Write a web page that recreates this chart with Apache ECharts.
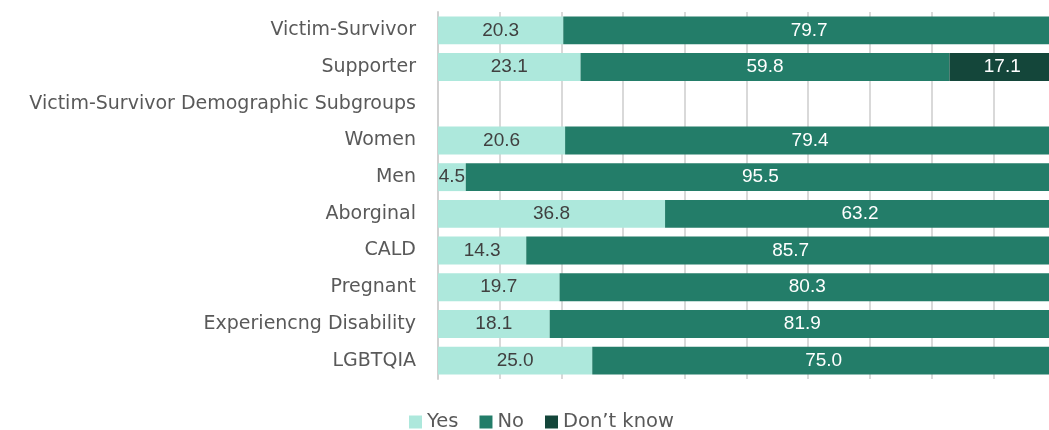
<!DOCTYPE html>
<html>
<head>
<meta charset="utf-8">
<script src="https://cdn.jsdelivr.net/npm/echarts@6/dist/echarts.min.js"></script>
<style>
  html, body { margin: 0; padding: 0; background: #fff; overflow: hidden; }
  /* a little wider than the window: the plot runs past the right edge, like the reference */
  #chart { width: 1055px; height: 430px; }
</style>
</head>
<body>
<div id="chart"></div>
<script>
// categories, top to bottom
const categories = [
    'Victim-Survivor',
    'Supporter',
    'Victim-Survivor Demographic Subgroups',
    'Women',
    'Men',
    'Aborginal',
    'CALD',
    'Pregnant',
    'Experiencng Disability',
    'LGBTQIA'
];
const yesValues = [20.3, 23.1, null, 20.6, 4.5, 36.8, 14.3, 19.7, 18.1, 25.0];
const noValues = [79.7, 59.8, null, 79.4, 95.5, 63.2, 85.7, 80.3, 81.9, 75.0];
const dontKnowValues = [null, 17.1, null, null, null, null, null, null, null, null];

function initChart() {
    const chart = echarts.init(document.getElementById('chart'));

    const labelFmt = function (p) {
        return p.value == null ? '' : Number(p.value).toFixed(1);
    };
    const barLabel = function (color) {
        return {
            show: true,
            position: 'inside',
            color: color,
            fontFamily: 'Liberation Sans',
            fontSize: 19,
            formatter: labelFmt
        };
    };

    const option = {
        animation: false,
        textStyle: { fontFamily: 'DejaVu Sans' },
        legend: {
            top: 407,
            left: 404,
            itemWidth: 13,
            itemHeight: 13,
            itemGap: 21,
            icon: 'rect',
            textStyle: { color: '#595959', fontSize: 19.5 },
            data: ['Yes', 'No', 'Don\u2019t know']
        },
        grid: {
            left: 438,
            right: 0,
            top: 12,
            bottom: 51,
            containLabel: false
        },
        xAxis: {
            type: 'value',
            min: 0,
            max: 100,
            interval: 10,
            axisLabel: { show: false },
            axisLine: { show: false },
            axisTick: { show: false },
            splitLine: { lineStyle: { color: '#d9d9d9', width: 2 } }
        },
        yAxis: {
            type: 'category',
            inverse: true,
            data: categories,
            axisLine: { show: true, lineStyle: { color: '#d0d0d0', width: 2 } },
            axisTick: { show: false },
            axisLabel: { color: '#595959', fontSize: 19, margin: 22 }
        },
        series: [
            {
                name: 'Yes',
                type: 'bar',
                stack: 'total',
                barCategoryGap: '24%',
                data: yesValues,
                itemStyle: { color: '#ade8dc' },
                label: barLabel('#404040')
            },
            {
                name: 'No',
                type: 'bar',
                stack: 'total',
                data: noValues,
                itemStyle: { color: '#237d69' },
                label: barLabel('#ffffff')
            },
            {
                name: 'Don\u2019t know',
                type: 'bar',
                stack: 'total',
                data: dontKnowValues,
                itemStyle: { color: '#14463a' },
                label: barLabel('#ffffff')
            }
        ]
    };

    chart.setOption(option);
}

document.addEventListener('DOMContentLoaded', initChart);
</script>
</body>
</html>
